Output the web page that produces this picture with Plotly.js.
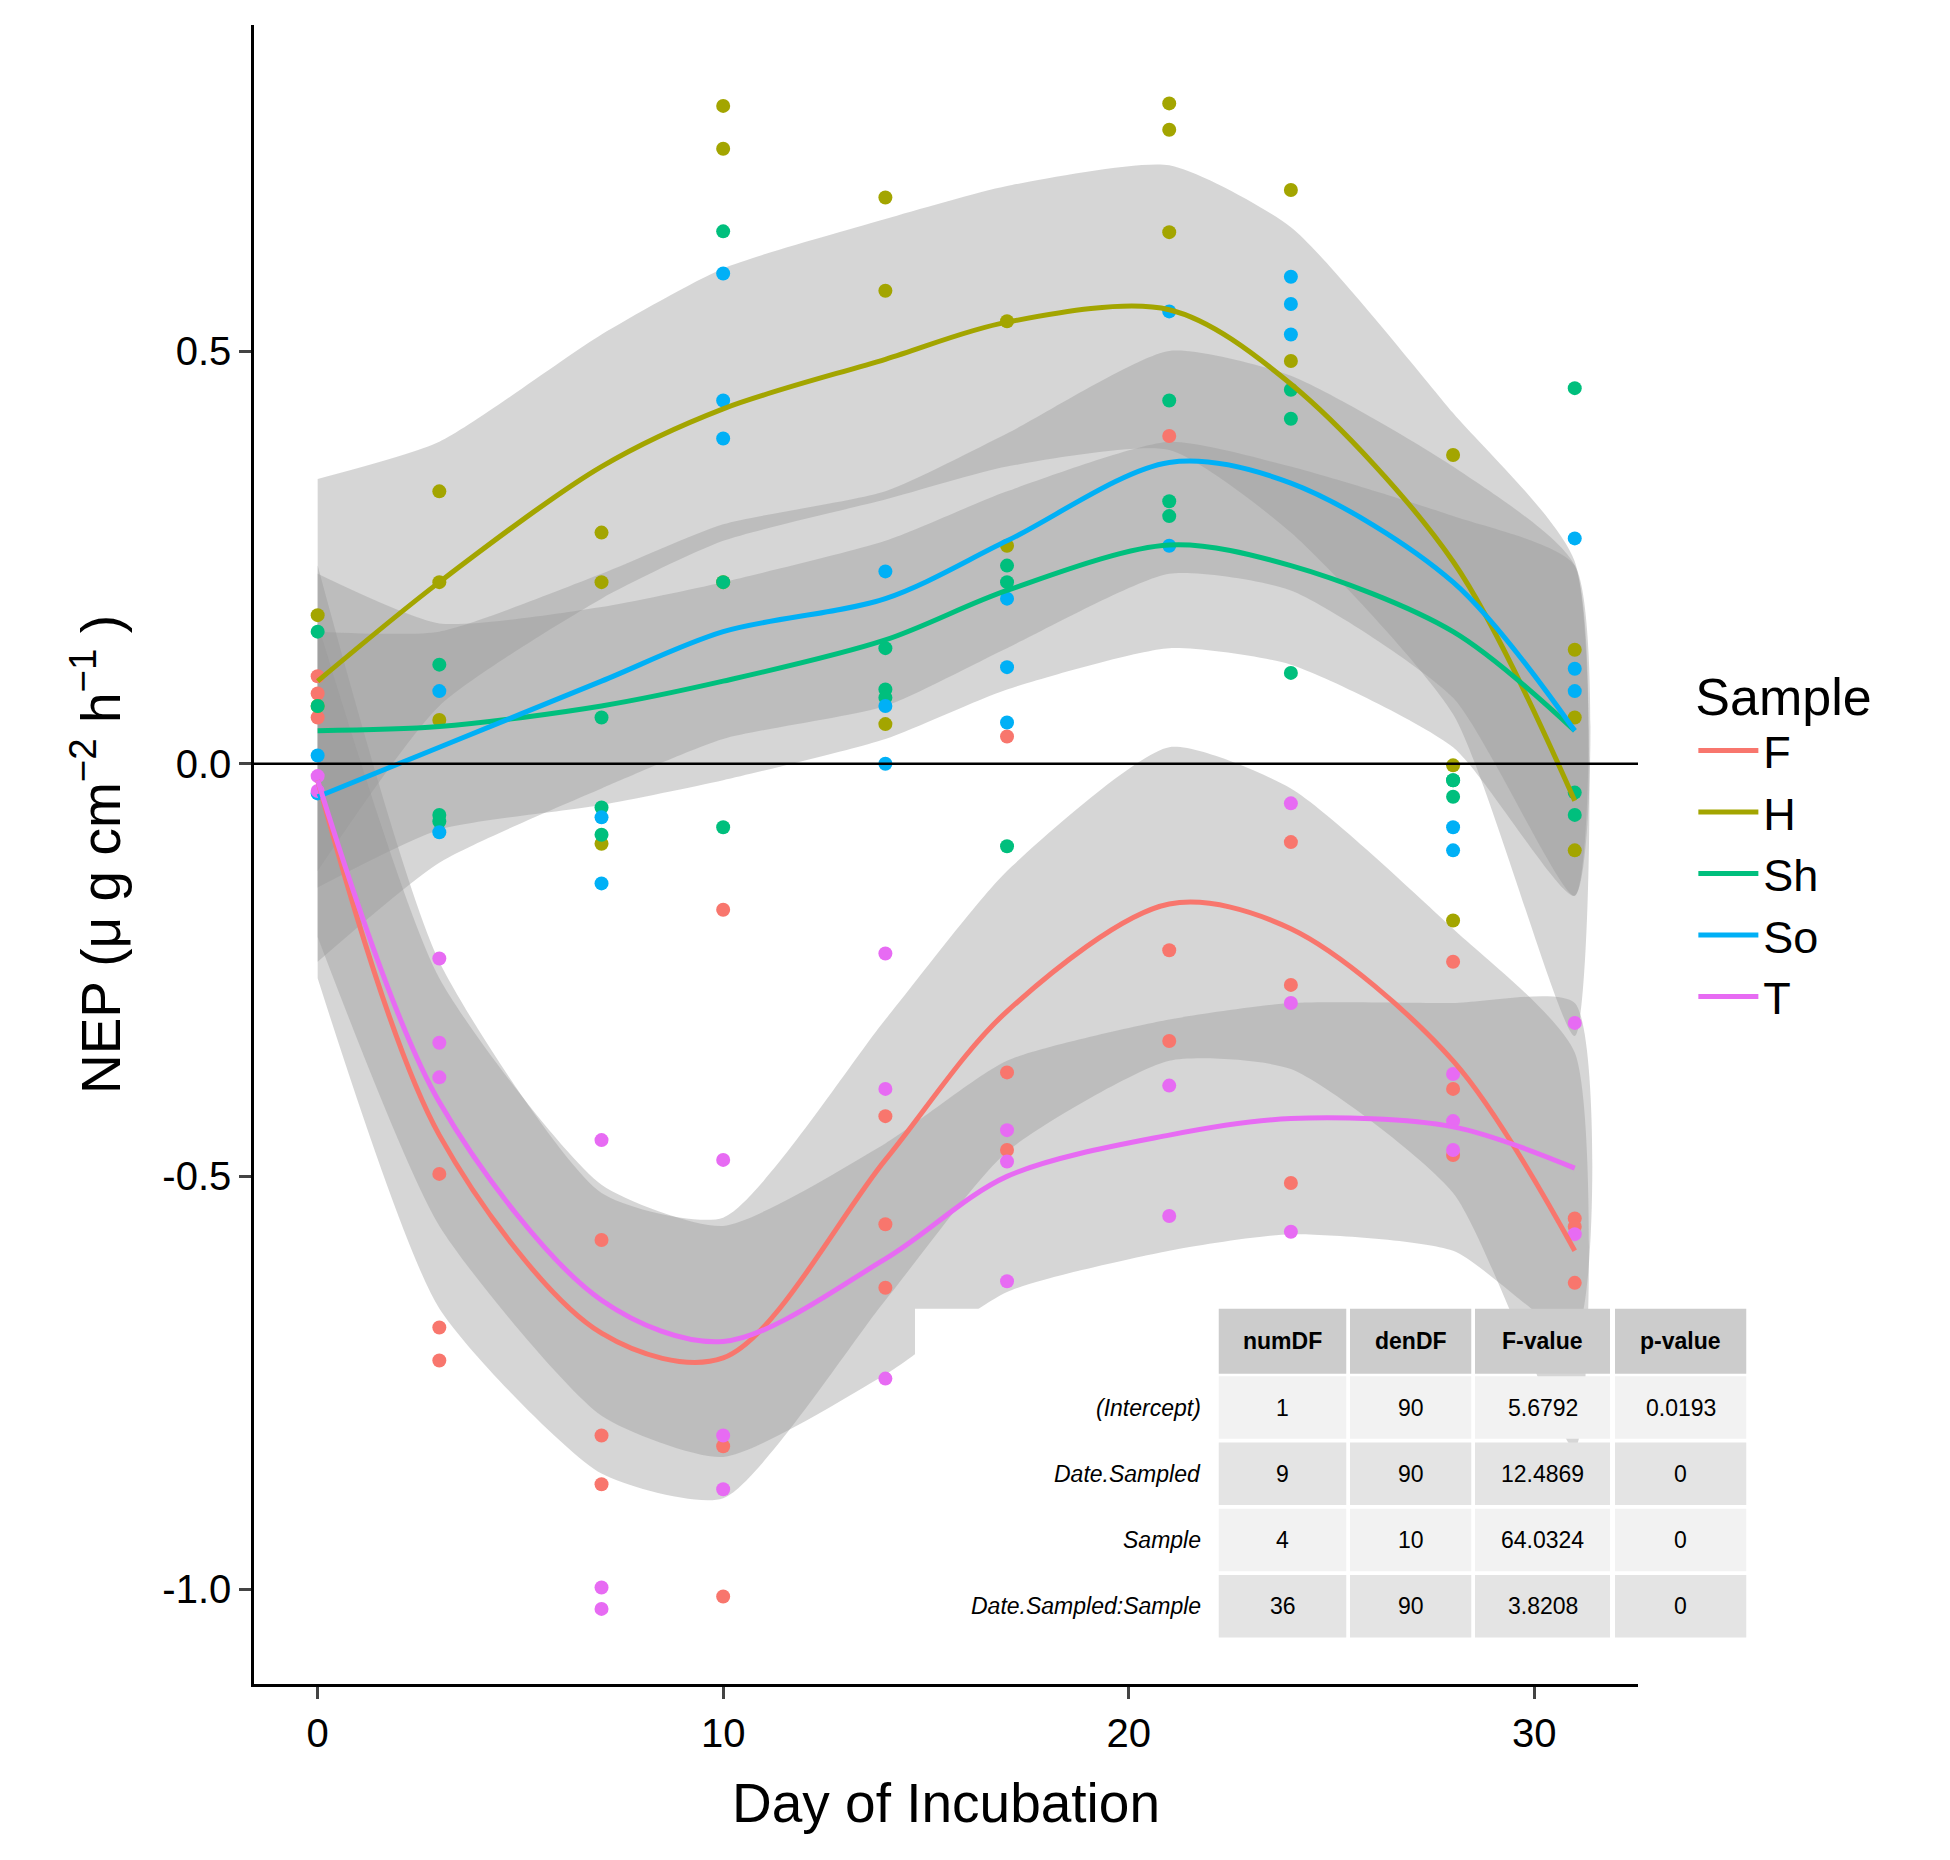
<!DOCTYPE html>
<html>
<head>
<meta charset="utf-8">
<script src="https://cdn.plot.ly/plotly-3.0.1.min.js"></script>
<style>body{margin:0;background:#fff}</style>
</head>
<body>
<div id="grafico" style="width:1950px;height:1860px"></div>
<script>
// observed points: day, value per sample
const samples = ['F', 'H', 'Sh', 'So', 'T'];
const colors = ['#F8766D', '#A3A500', '#00BF7D', '#00B0F6', '#E76BF3'];

const ptsF_x = [0,0,0, 3,3,3, 7,7,7, 10,10,10, 14,14,14, 17,17,17, 21,21,21, 24,24,24, 28,28,28, 31,31,31];
const ptsF_y = [0.106,0.085,0.056, -0.497,-0.683,-0.723, -0.577,-0.814,-0.873, -0.177,-0.827,-1.009, -0.427,-0.558,-0.635, 0.033,-0.374,-0.468, 0.397,-0.226,-0.336, -0.095,-0.268,-0.508, -0.24,-0.394,-0.474, -0.551,-0.561,-0.629];
const ptsH_x = [0,0, 3,3,3, 7,7,7, 10,10,10, 14,14,14, 17,17, 21,21,21, 24,24, 28,28,28, 31,31,31];
const ptsH_y = [0.18,0.07, 0.33,0.22,0.053, 0.28,0.22,-0.097, 0.797,0.745,0.22, 0.686,0.573,0.048, 0.536,0.264, 0.8,0.768,0.644, 0.695,0.488, 0.374,-0.002,-0.19, 0.138,0.056,-0.105];
const ptsSh_x = [0,0, 3,3,3, 7,7,7, 10,10,10, 14,14,14, 17,17,17, 21,21,21, 24,24,24, 28,28,28, 31,31,31];
const ptsSh_y = [0.16,0.07, 0.12,-0.062,-0.07, 0.056,-0.053,-0.086, 0.645,0.22,-0.077, 0.14,0.09,0.08, 0.24,0.22,-0.1, 0.44,0.318,0.3, 0.453,0.418,0.11, -0.02,-0.04,-0.02, 0.455,-0.035,-0.062];
const ptsSo_x = [0,0, 3,3, 7,7, 10,10,10, 14,14,14, 17,17,17, 21,21, 24,24,24, 28,28, 31,31,31];
const ptsSo_y = [0.01,-0.036, 0.088,-0.083, -0.065,-0.145, 0.594,0.44,0.394, 0.233,0.07,0.0, 0.2,0.117,0.05, 0.548,0.264, 0.59,0.557,0.52, -0.077,-0.105, 0.273,0.115,0.088];
const ptsT_x = [0,0, 3,3,3, 7,7,7, 10,10,10, 14,14,14, 17,17,17, 21,21,21, 24,24,24, 28,28,28, 31,31];
const ptsT_y = [-0.015,-0.033, -0.236,-0.338,-0.38, -0.456,-0.998,-1.024, -0.48,-0.814,-0.879, -0.23,-0.394,-0.745, -0.444,-0.482,-0.627, -0.39,-0.548,-0.798, -0.048,-0.29,-0.567, -0.376,-0.433,-0.468, -0.314,-0.57];

// smoothed fits
const fitX = [0, 3, 7, 10, 14, 17, 21, 24, 28, 31];
const fitF = [-0.02, -0.45, -0.69, -0.72, -0.48, -0.3, -0.17, -0.2, -0.36, -0.59];
const fitH = [0.1, 0.22, 0.36, 0.43, 0.49, 0.535, 0.55, 0.46, 0.245, -0.045];
const fitSh = [0.04, 0.045, 0.07, 0.1, 0.15, 0.21, 0.265, 0.24, 0.16, 0.04];
const fitSo = [-0.04, 0.02, 0.1, 0.16, 0.2, 0.27, 0.365, 0.34, 0.22, 0.04];
const fitT = [-0.02, -0.41, -0.65, -0.7, -0.6, -0.5, -0.45, -0.43, -0.44, -0.49];

// confidence bands (upper / lower)
const upF = [0.24, -0.24, -0.52, -0.55, -0.31, -0.13, 0.02, -0.03, -0.2, -0.35];
const loF = [-0.26, -0.66, -0.86, -0.89, -0.65, -0.47, -0.36, -0.37, -0.52, -0.83];
const upH = [0.345, 0.39, 0.52, 0.6, 0.66, 0.7, 0.725, 0.65, 0.425, 0.245];
const loH = [-0.13, 0.07, 0.2, 0.27, 0.32, 0.36, 0.38, 0.28, 0.06, -0.33];
const upSh = [0.23, 0.17, 0.19, 0.22, 0.27, 0.33, 0.39, 0.36, 0.3, 0.24];
const loSh = [-0.15, -0.08, -0.05, -0.02, 0.03, 0.09, 0.14, 0.12, 0.02, -0.16];
const upSo = [0.16, 0.16, 0.23, 0.29, 0.33, 0.4, 0.5, 0.47, 0.36, 0.24];
const loSo = [-0.24, -0.12, -0.03, 0.03, 0.07, 0.14, 0.23, 0.21, 0.08, -0.16];
const upT = [0.17, -0.26, -0.51, -0.56, -0.46, -0.36, -0.31, -0.29, -0.29, -0.29];
const loT = [-0.21, -0.56, -0.79, -0.84, -0.74, -0.64, -0.59, -0.57, -0.59, -0.69];

// ANOVA table
const tabHeader = ['numDF', 'denDF', 'F-value', 'p-value'];
const tabRows = ['(Intercept)', 'Date.Sampled', 'Sample', 'Date.Sampled:Sample'];
const numDF = ['1', '9', '4', '36'];
const denDF = ['90', '90', '10', '90'];
const fValue = ['5.6792', '12.4869', '64.0324', '3.8208'];
const pValue = ['0.0193', '0', '0', '0'];

const ptsX = [ptsF_x, ptsH_x, ptsSh_x, ptsSo_x, ptsT_x];
const ptsY = [ptsF_y, ptsH_y, ptsSh_y, ptsSo_y, ptsT_y];
const fits = [fitF, fitH, fitSh, fitSo, fitT];
const ups = [upF, upH, upSh, upSo, upT];
const los = [loF, loH, loSh, loSo, loT];

const traces = [];
// bands first
samples.forEach((s, i) => {
    traces.push({
        x: fitX.concat(fitX.slice().reverse()),
        y: ups[i].concat(los[i].slice().reverse()),
        type: 'scatter', mode: 'lines', fill: 'toself',
        fillcolor: 'rgba(153,153,153,0.4)',
        line: { width: 0, shape: 'spline', smoothing: 0.6, color: 'rgba(0,0,0,0)' },
        showlegend: false, hoverinfo: 'skip'
    });
});
samples.forEach((s, i) => {
    traces.push({
        x: ptsX[i], y: ptsY[i], type: 'scatter', mode: 'markers',
        marker: { color: colors[i], size: 14 }, showlegend: false
    });
});
samples.forEach((s, i) => {
    traces.push({
        x: fitX, y: fits[i], type: 'scatter', mode: 'lines+markers', name: s,
        line: { color: colors[i], width: 5, shape: 'spline', smoothing: 0.9 },
        marker: { size: 0.1, color: colors[i] }
    });
});

// table drawn with shapes + annotations (display px -> paper)
const W = 1950, L = 254, R = 312, T = 25, B = 176;
const pw = W - L - R, ph = 1860 - T - B;
const px = X => (X * 1.25 - L) / pw;
const py = Y => (1860 - B - Y * 1.25) / ph;
const colL = [975, 1080, 1180, 1292];
const colR = [1077, 1177, 1288, 1397];
const rowT = [1047, 1101, 1154, 1207, 1260];
const rowB = [1099, 1151, 1204, 1257, 1310];
const shapes = [
    { type: 'line', xref: 'paper', yref: 'y', x0: 0, x1: 1, y0: 0, y1: 0, line: { color: 'black', width: 2.5 } },
    { type: 'rect', xref: 'paper', yref: 'paper', x0: px(732), x1: px(975), y0: py(1310), y1: py(1047), fillcolor: 'white', line: { width: 0 }, layer: 'above' }
];
const annotations = [];
const cols = [numDF, denDF, fValue, pValue];
for (let r = 0; r < 5; r++) {
    for (let c = 0; c < 4; c++) {
        const fill = r === 0 ? '#cccccc' : (r % 2 === 1 ? '#f2f2f2' : '#e4e4e4');
        shapes.push({ type: 'rect', xref: 'paper', yref: 'paper', layer: 'above',
            x0: px(colL[c]), x1: px(colR[c]), y0: py(rowB[r]), y1: py(rowT[r]),
            fillcolor: fill, line: { width: 0 } });
        const txt = r === 0 ? '<b>' + tabHeader[c] + '</b>' : cols[c][r - 1];
        annotations.push({ xref: 'paper', yref: 'paper', x: px((colL[c] + colR[c]) / 2), y: py((rowT[r] + rowB[r]) / 2),
            xanchor: 'center', yanchor: 'middle',
            text: txt, showarrow: false, font: { size: 23, color: 'black', family: 'Liberation Sans' } });
    }
    if (r > 0) {
        annotations.push({ xref: 'paper', yref: 'paper', x: px(962), y: py((rowT[r] + rowB[r]) / 2),
            xanchor: 'right', yanchor: 'middle',
            text: '<i>' + tabRows[r - 1] + '</i>', showarrow: false, font: { size: 23, color: 'black', family: 'Liberation Sans' } });
    }
}

const layout = {
    width: 1950, height: 1860,
    margin: { l: L, r: R, t: T, b: B },
    paper_bgcolor: 'white', plot_bgcolor: 'white',
    font: { family: 'Liberation Sans', color: 'black' },
    xaxis: {
        range: [-1.57, 32.56], tickvals: [0, 10, 20, 30], showgrid: false, zeroline: false,
        showline: true, linecolor: 'black', linewidth: 2.5, ticks: 'outside', ticklen: 12, tickwidth: 2.5,
        tickfont: { size: 40, color: 'black' },
        title: { text: 'Day of Incubation', font: { size: 55 }, standoff: 30 }
    },
    yaxis: {
        range: [-1.115, 0.895], tickvals: [-1, -0.5, 0, 0.5], ticktext: ['-1.0', '-0.5', '0.0', '0.5'],
        showgrid: false, zeroline: false,
        showline: true, linecolor: 'black', linewidth: 2.5, ticks: 'outside', ticklen: 12, tickwidth: 2.5,
        tickfont: { size: 40, color: 'black' },
        title: { text: 'NEP (μ g cm<sup>−2</sup> h<sup>−1</sup> )', font: { size: 55 }, standoff: 25 }
    },
    legend: {
        x: 1.04, y: 0.625, yanchor: 'top', xanchor: 'left',
        title: { text: 'Sample', font: { size: 52 } },
        font: { size: 45 }, bgcolor: 'white', itemwidth: 60
    },
    shapes: shapes,
    annotations: annotations
};

Plotly.newPlot('grafico', traces, layout, { displayModeBar: false });
</script>
</body>
</html>
